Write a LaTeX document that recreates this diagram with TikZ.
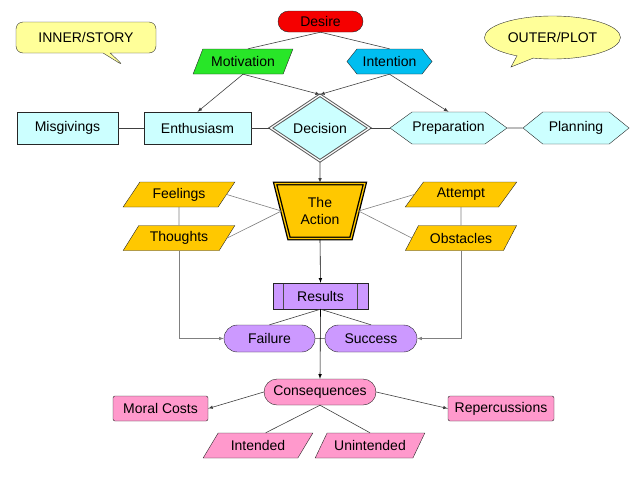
\documentclass[tikz,border=0pt]{standalone}
\usepackage{fontspec}
\setmainfont{Liberation Sans}
\usetikzlibrary{shapes.geometric,shapes.misc,shapes.symbols,shapes.callouts,calc}
\definecolor{lcyan}{RGB}{204,255,255}
\definecolor{sunny}{RGB}{255,255,153}
\definecolor{gold}{RGB}{255,200,0}
\definecolor{lilac}{RGB}{204,153,255}
\definecolor{rose}{RGB}{255,153,204}
\definecolor{brightred}{RGB}{245,0,0}
\definecolor{brightgreen}{RGB}{40,230,40}
\definecolor{skyblue}{RGB}{0,190,240}

\begin{document}
\begin{tikzpicture}[x=1pt,y=-1pt,font=\fontsize{14}{16.5}\selectfont,
   box/.style 2 args={rectangle,draw=black!85,fill=#1,minimum width=#2,minimum height=32,inner sep=0pt},
   pill/.style 2 args={rounded rectangle,draw=black!85,fill=#1,minimum width=#2,minimum height=26,inner sep=0pt},
   para/.style n args={3}{trapezium,trapezium stretches=true,trapezium left angle=#3,trapezium right angle=180-#3,draw=black!85,fill=#1,minimum width=#2,minimum height=25,inner sep=0pt},
   hexa/.style n args={3}{signal,signal to=west and east,signal pointer angle=#3,draw=black!85,fill=#1,minimum width=#2,minimum height=32,inner sep=0pt},
   line/.style={draw=black!75,line width=0.6pt},
   soft/.style={draw=black!50,line width=0.6pt},
   arr/.style={line,-latex}]
\useasboundingbox (0,0) rectangle (640,480);

% notes
\node[rectangle callout,draw=black!80,fill=sunny,rounded corners=7pt,minimum width=140,minimum height=31,
   callout absolute pointer={(124,66)}] (inner) at (86,37.5) {INNER/STORY};
\node[ellipse callout,draw=black!80,fill=sunny,minimum width=135,minimum height=43,
   callout absolute pointer={(511,67)}] (outer) at (552.5,37.5) {OUTER/PLOT};

% top
\node[pill={brightred}{85},minimum height=21] (desire) at (320.5,21.5) {Desire};
\node[para={brightgreen}{100}{53}] (motivation) at (243,61.5) {Motivation};
\node[hexa={skyblue}{85}{103},minimum height=25] (intention) at (389.5,61.5) {Intention};

% middle row
\node[box={lcyan}{101}] (misgivings) at (67.5,128) {Misgivings};
\node[box={lcyan}{107}] (enthusiasm) at (197.5,128) {Enthusiasm};
\node[diamond,aspect=1.48,draw=black!65,double=white,double distance=1.2pt,line width=1pt,
   fill=lcyan,minimum width=99,minimum height=66,inner sep=0pt] (decision) at (320,128) {Decision};
\node[hexa={lcyan}{117}{72}] (preparation) at (448.5,128) {Preparation};
\node[hexa={lcyan}{106}{78}] (planning) at (576,128) {Planning};

% action
\node[trapezium,trapezium stretches=true,trapezium left angle=72,trapezium right angle=72,
   shape border rotate=180,draw=black,double=gold,double distance=1.3pt,line width=1.3pt,fill=gold,
   minimum width=90,minimum height=55,inner sep=0pt,align=center] (action) at (320,211) {The\\Action};
\node[para={gold}{112}{49}] (feelings) at (179,194.5) {Feelings};
\node[para={gold}{112}{49}] (thoughts) at (179,238) {Thoughts};
\node[para={gold}{112}{47}] (attempt) at (461,194.5) {Attempt};
\node[para={gold}{112}{47}] (obstacles) at (461,238) {Obstacles};

% results
\node[box={lilac}{95},minimum height=26,
   path picture={\draw[black!70] ([xshift=10pt]path picture bounding box.north west) -- ([xshift=10pt]path picture bounding box.south west);
                 \draw[black!70] ([xshift=-11pt]path picture bounding box.north east) -- ([xshift=-11pt]path picture bounding box.south east);}]
   (results) at (320.5,296) {Results};
\node[pill={lilac}{91},minimum height=27] (failure) at (269.5,338.5) {Failure};
\node[pill={lilac}{92},minimum height=27] (success) at (371,338.5) {Success};

% consequences
\node[pill={rose}{112}] (consequences) at (320,392) {Consequences};
\node[box={rose}{95},minimum height=25,rounded corners=2pt] (moral) at (160.5,408.5) {Moral Costs};
\node[box={rose}{106},minimum height=25,rounded corners=2pt] (repercussions) at (501,408.5) {Repercussions};
\node[para={rose}{110}{45}] (intended) at (258,445.5) {Intended};
\node[para={rose}{110}{46}] (unintended) at (370,445.5) {Unintended};

% connectors
\draw[line] (desire.south) -- ($(motivation.top left corner)!.5!(motivation.top right corner)$);
\draw[line] (desire.south) -- (intention.north);
\draw[arr] (motivation.south) -- (enthusiasm.north);
\draw[arr] (motivation.south) -- (decision.north);
\draw[arr] (intention.south) -- (decision.north);
\draw[arr] (intention.south) -- (preparation.north);
\foreach \a/\b in {misgivings/enthusiasm,enthusiasm/decision,decision/preparation,preparation/planning} {
   \draw[line] (\a) -- (\b);
}
\draw[arr] (decision.south) -- (action.north);
\foreach \n in {feelings,thoughts} {
   \draw[soft] (action.west) -- (\n.east);
}
\foreach \n in {attempt,obstacles} {
   \draw[soft] (action.east) -- (\n.west);
}
\draw[soft] (feelings.south) -- (thoughts.north);
\draw[soft] (attempt.south) -- (obstacles.north);
\draw[soft,-latex] (thoughts.south) |- (failure.west);
\draw[soft,-latex] (obstacles.south) |- (success.east);
\draw[arr,draw=black] (action.south) -- (results.north);
\draw[line] (results.south) -- (failure.north);
\draw[line] (results.south) -- (success.north);
\draw[soft] (failure) -- (success);
\draw[arr,draw=black] (results.south) -- (consequences.north);
\draw[arr] (consequences.west) -- (moral.east);
\draw[arr] (consequences.east) -- (repercussions.west);
\draw[line] (consequences.south) -- ($(intended.top left corner)!.5!(intended.top right corner)$);
\draw[line] (consequences.south) -- (unintended.north);
\end{tikzpicture}
\end{document}
